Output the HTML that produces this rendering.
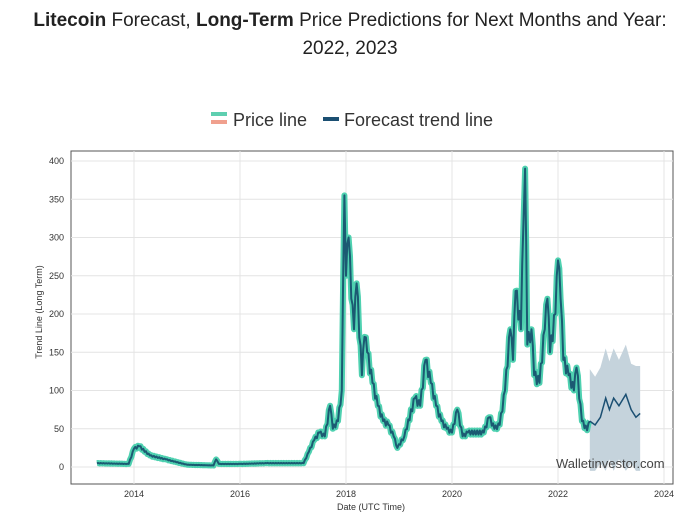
<!DOCTYPE html><html><head><meta charset="utf-8"><style>
body{margin:0;background:#fff;width:700px;height:520px;overflow:hidden;font-family:"Liberation Sans",sans-serif}
</style></head><body>
<svg id="s" width="700" height="520" xmlns="http://www.w3.org/2000/svg" font-family="Liberation Sans, sans-serif">
<text x="350" y="26" font-size="19" text-anchor="middle" fill="#222"><tspan font-weight="bold">Litecoin</tspan> Forecast, <tspan font-weight="bold">Long-Term</tspan> Price Predictions for Next Months and Year:</text>
<text x="350" y="54" font-size="19" text-anchor="middle" fill="#222">2022, 2023</text>
<rect x="211" y="112" width="16" height="4" fill="#5ecfb0"/><rect x="211" y="120" width="16" height="4" fill="#f0a08e"/>
<text x="233" y="126" font-size="18" fill="#333">Price line</text>
<rect x="323" y="117" width="16" height="4" fill="#1b4f72"/>
<text x="344" y="126" font-size="18" fill="#333">Forecast trend line</text>
<rect x="71" y="151" width="602" height="333" fill="none" stroke="#555" stroke-width="1"/>
<g id="g"></g>
<text x="556" y="468" font-size="13" fill="#444">Walletinvestor.com</text>
<text x="371" y="510" font-size="9" text-anchor="middle" fill="#333">Date (UTC Time)</text>
<text transform="translate(42,312) rotate(-90)" font-size="9" text-anchor="middle" fill="#333">Trend Line (Long Term)</text>
</svg>
<script>
var g=document.getElementById('g'),h='';
function X(t){return 134+(t-2014)*53.0}function Y(v){return 467-v*0.765}
for(var v=0;v<=400;v+=50){h+='<line x1="71" x2="673" y1="'+Y(v)+'" y2="'+Y(v)+'" stroke="#e4e4e4"/><text x="64" y="'+(Y(v)+3)+'" font-size="9" text-anchor="end" fill="#333">'+v+'</text>';}
for(var t=2014;t<=2024;t+=2){h+='<line y1="151" y2="484" x1="'+X(t)+'" x2="'+X(t)+'" stroke="#e4e4e4"/><text y="497" x="'+X(t)+'" font-size="9" text-anchor="middle" fill="#333">'+t+'</text>';}
var d=[[2013.3,5],[2013.9,4],[2014.0,24],[2014.1,27],[2014.3,15],[2014.6,10],[2015,3],[2015.5,2],[2015.55,10],[2015.6,4],[2016,4],[2016.5,5],[2017.2,5],[2017.3,20],[2017.4,35],[2017.5,45],[2017.6,40],[2017.7,80],[2017.75,50],[2017.85,60],[2017.92,100],[2017.97,355],[2018.0,250],[2018.05,300],[2018.1,220],[2018.15,180],[2018.2,240],[2018.3,120],[2018.35,170],[2018.4,150],[2018.5,110],[2018.6,80],[2018.7,60],[2018.8,55],[2018.9,40],[2018.97,25],[2019.1,40],[2019.3,90],[2019.4,80],[2019.5,140],[2019.6,110],[2019.7,80],[2019.8,60],[2019.9,50],[2020.0,45],[2020.1,75],[2020.2,40],[2020.3,45],[2020.6,45],[2020.7,65],[2020.8,50],[2020.9,55],[2021.0,100],[2021.1,180],[2021.15,140],[2021.2,230],[2021.3,180],[2021.35,320],[2021.38,390],[2021.42,160],[2021.5,180],[2021.55,120],[2021.65,110],[2021.75,180],[2021.8,220],[2021.85,150],[2021.95,200],[2022.0,270],[2022.05,220],[2022.1,140],[2022.2,120],[2022.3,100],[2022.35,130],[2022.45,60],[2022.55,48],[2022.6,60]];
// add jitter
var dd=[];for(var i=0;i<d.length-1;i++){var a=d[i],b=d[i+1];var n=Math.max(1,Math.round((b[0]-a[0])*40));for(var k=0;k<n;k++){var u=k/n;var val=a[1]+(b[1]-a[1])*u;var j=(k%2?1:-1)*val*0.06*(k?1:0);dd.push([a[0]+(b[0]-a[0])*u,Math.max(0,val+j)]);}}dd.push(d[d.length-1]);
var f=[[2022.6,60],[2022.7,55],[2022.8,65],[2022.9,90],[2022.97,75],[2023.05,90],[2023.15,80],[2023.28,95],[2023.38,75],[2023.47,65],[2023.55,70]];
var ub=[128,118,130,155,138,155,140,160,135,132,132];
var lb=[-5,-5,5,-5,10,-5,10,-5,5,-5,-5];
var up=f.map(function(p,i){return X(p[0])+','+Y(ub[i])}).join(' ');
var lo=f.map(function(p,i){return X(p[0])+','+Y(lb[i])}).reverse().join(' ');
h+='<polygon points="'+up+' '+lo+'" fill="#c5d3dc"/>';
var pl=dd.map(function(p){return X(p[0]).toFixed(1)+','+Y(p[1]).toFixed(1)}).join(' ');
h+='<polyline points="'+pl+'" fill="none" stroke="#4fd1b0" stroke-width="6" stroke-linejoin="round"/>';
h+='<polyline points="'+pl+'" fill="none" stroke="#1b5a72" stroke-width="2" stroke-linejoin="round"/>';
h+='<polyline points="'+f.map(function(p){return X(p[0])+','+Y(p[1])}).join(' ')+'" fill="none" stroke="#1b4f72" stroke-width="1.5"/>';
g.innerHTML=h;
</script>
</body></html>
